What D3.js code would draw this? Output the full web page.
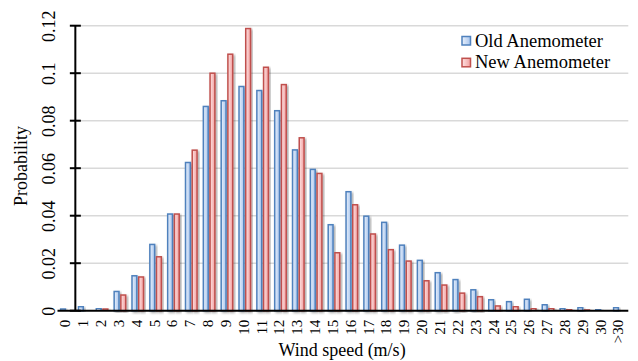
<!DOCTYPE html>
<html>
<head>
<meta charset="utf-8">
<script src="https://cdn.jsdelivr.net/npm/d3@7"></script>
<style>
body { margin: 0; background: #fff; }
text { font-family: "Liberation Serif", "Times New Roman", serif; fill: #000; }
</style>
</head>
<body>
<script>
var categories = ["0","1","2","3","4","5","6","7","8","9","10","11","12","13","14","15",
    "16","17","18","19","20","21","22","23","24","25","26","27","28","29","30",">30"];
var oldValues = [0.0007,0.0017,0.001,0.0081,0.0147,0.0279,0.0407,0.0624,0.086,0.0884,0.0944,
    0.0927,0.0842,0.0677,0.0595,0.0362,0.0501,0.0398,0.0372,0.0276,0.0212,0.016,0.0131,
    0.0088,0.0046,0.0038,0.0048,0.0025,0.001,0.0013,0.0006,0.0013];
var newValues = [0,0,0.0007,0.0066,0.0142,0.0227,0.0407,0.0676,0.1,0.108,0.1188,
    0.1025,0.0952,0.0728,0.0578,0.0244,0.0446,0.0323,0.0257,0.0209,0.0126,0.0108,0.0074,
    0.0059,0.002,0.0017,0.001,0.001,0.0006,0.0003,0.0002,0.0001];
var seriesNames = ["Old Anemometer", "New Anemometer"];
var yTicks = [0, 0.02, 0.04, 0.06, 0.08, 0.1, 0.12];

var width = 638, height = 361;
var strokeColors = ["#4f81bd", "#c0504d"];

var svg = d3.select("body").append("svg")
    .attr("width", width)
    .attr("height", height);

var defs = svg.append("defs");
var grads = [["#eaf1fb", "#a8c5ee"], ["#fde3e3", "#f2a0a0"]];
grads.forEach(function(g, i) {
    var lg = defs.append("linearGradient")
        .attr("id", "grad" + i)
        .attr("x1", "0%").attr("x2", "100%")
        .attr("y1", "0%").attr("y2", "0%");
    lg.append("stop").attr("offset", "0%").attr("stop-color", g[0]);
    lg.append("stop").attr("offset", "100%").attr("stop-color", g[1]);
});
defs.append("filter")
    .attr("id", "shadow")
    .attr("x", "-50%").attr("y", "-10%")
    .attr("width", "200%").attr("height", "120%")
    .append("feDropShadow")
    .attr("dx", 1.5).attr("dy", 1.5)
    .attr("stdDeviation", 1.2)
    .attr("flood-color", "#000")
    .attr("flood-opacity", 0.35);

var x0 = d3.scaleBand()
    .domain(categories)
    .range([57.5, 628.3])
    .paddingInner(0).paddingOuter(0);

var x1 = d3.scaleBand()
    .domain([0, 1])
    .range([0, x0.bandwidth()])
    .paddingInner(0.28)
    .paddingOuter(0.47);

var y = d3.scaleLinear()
    .domain([0, 0.12])
    .range([310.7, 25.7]);

// y axis sits between category 0 and 1
var axisX = x0(categories[1]);

// gridlines
svg.append("g").selectAll("line")
    .data(yTicks.slice(1))
    .enter().append("line")
    .attr("x1", axisX)
    .attr("x2", 628.3)
    .attr("y1", function(d) { return y(d); })
    .attr("y2", function(d) { return y(d); })
    .attr("stroke", "#d9d9d9")
    .attr("stroke-width", 1.6);

// bars
var rows = categories.map(function(c, i) {
    return { cat: c, vals: [oldValues[i], newValues[i]] };
});

var groups = svg.append("g").selectAll("g")
    .data(rows)
    .enter().append("g")
    .attr("transform", function(d) { return "translate(" + x0(d.cat) + ",0)"; });

groups.selectAll("rect")
    .data(function(d) { return d.vals.map(function(v, s) { return { v: v, s: s }; }); })
    .enter().append("rect")
    .filter(function(d) { return d.v > 0; })
    .attr("x", function(d) { return x1(d.s); })
    .attr("width", x1.bandwidth())
    .attr("y", function(d) { return y(d.v); })
    .attr("height", function(d) { return y(0) - y(d.v); })
    .attr("fill", function(d) { return "url(#grad" + d.s + ")"; })
    .attr("stroke", function(d) { return strokeColors[d.s]; })
    .attr("stroke-width", 1.5)
    .attr("filter", "url(#shadow)");

// axes
var yAxis = d3.axisLeft(y)
    .tickValues(yTicks)
    .tickFormat(function(d) { return d3.format("")(+d.toFixed(2)); })
    .tickSizeInner(0)
    .tickSizeOuter(0);

var yg = svg.append("g")
    .attr("transform", "translate(" + axisX + ",0)")
    .call(yAxis);
yg.select(".domain").remove();
yg.selectAll(".tick line").remove();
yg.selectAll(".tick text")
    .attr("x", null).attr("dy", null)
    .attr("text-anchor", "middle")
    .attr("transform", "translate(" + (55 - axisX) + ",0) rotate(-90)")
    .style("font-size", "18px")
    .style("font-family", "Liberation Serif");

svg.append("g").selectAll("line")
    .data(yTicks)
    .enter().append("line")
    .attr("x1", axisX - 5.5)
    .attr("x2", axisX + 5.5)
    .attr("y1", function(d) { return y(d); })
    .attr("y2", function(d) { return y(d); })
    .attr("stroke", "#000")
    .attr("stroke-width", 2);

svg.append("line")
    .attr("x1", axisX).attr("x2", axisX)
    .attr("y1", y(0.12)).attr("y2", y(0))
    .attr("stroke", "#000")
    .attr("stroke-width", 2);

var xAxis = d3.axisBottom(x0).tickSize(0);
var xg = svg.append("g")
    .attr("transform", "translate(0," + y(0) + ")")
    .call(xAxis);
xg.select(".domain").remove();
xg.selectAll(".tick text")
    .attr("y", null).attr("dy", null)
    .attr("text-anchor", "end")
    .attr("transform", "translate(4,9) rotate(-90)")
    .style("font-size", "15px")
    .style("font-family", "Liberation Serif");

svg.append("line")
    .attr("x1", 57.5).attr("x2", 628.3)
    .attr("y1", y(0)).attr("y2", y(0))
    .attr("stroke", "#000")
    .attr("stroke-width", 2);

// axis titles
svg.append("text")
    .attr("x", 342)
    .attr("y", 356)
    .attr("text-anchor", "middle")
    .style("font-size", "18px")
    .text("Wind speed (m/s)");

svg.append("text")
    .attr("transform", "translate(27,166) rotate(-90)")
    .attr("text-anchor", "middle")
    .style("font-size", "18px")
    .text("Probability");

// legend
var legend = svg.append("g").selectAll("g")
    .data(seriesNames)
    .enter().append("g")
    .attr("transform", function(d, i) { return "translate(462," + (46.5 + i * 21.8) + ")"; });

legend.append("rect")
    .attr("x", 0).attr("y", -10)
    .attr("width", 8.5).attr("height", 8.5)
    .attr("fill", function(d, i) { return "url(#grad" + i + ")"; })
    .attr("stroke", function(d, i) { return strokeColors[i]; })
    .attr("stroke-width", 1.5);

legend.append("text")
    .attr("x", 13)
    .attr("y", 0)
    .style("font-size", "18.5px")
    .text(function(d) { return d; });
</script>
</body>
</html>
